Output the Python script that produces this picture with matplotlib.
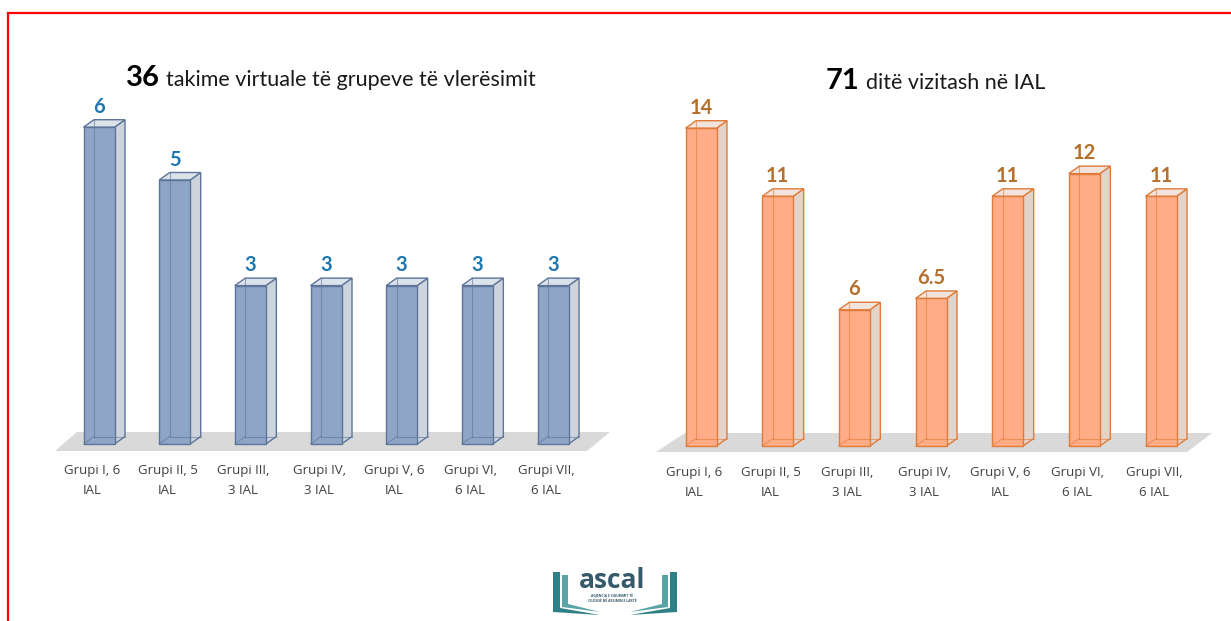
import matplotlib
matplotlib.use("Agg")
import matplotlib.pyplot as plt
from matplotlib.patches import Polygon, Rectangle
from matplotlib.lines import Line2D

# ---------------- data ----------------
categories = ["Grupi I, 6\nIAL", "Grupi II, 5\nIAL", "Grupi III,\n3 IAL", "Grupi IV,\n3 IAL",
              "Grupi V, 6\nIAL", "Grupi VI,\n6 IAL", "Grupi VII,\n6 IAL"]
meetings = [6, 5, 3, 3, 3, 3, 3]
visit_days = [14, 11, 6, 6.5, 11, 12, 11]
meetings_labels = ["6", "5", "3", "3", "3", "3", "3"]
visit_labels = ["14", "11", "6", "6.5", "11", "12", "11"]
title_left_num, title_left_text = "36", "takime virtuale të grupeve të vlerësimit"
title_right_num, title_right_text = "71", "ditë vizitash në IAL"

W, H = 1231, 621
fig = plt.figure(figsize=(W / 100, H / 100), dpi=100)
fig.patch.set_facecolor("white")

FONT = "Lato"


def make_axes(box, x_first, x_step, y_base, y_scale):
    """box = (left, right, top, bottom) in pixels from top-left."""
    l, r, t, b = box
    ax = fig.add_axes([l / W, 1 - b / H, (r - l) / W, (b - t) / H])
    ax.set_xlim((l - x_first) / x_step, (r - x_first) / x_step)
    ax.set_ylim((y_base - b) / y_scale, (y_base - t) / y_scale)
    ax.axis("off")
    return ax


def draw_chart(ax, values, labels, x_first, x_step, y_base, y_scale, floor_px,
               face, side, top, edge, val_color):
    px2x = lambda p: (p - x_first) / x_step
    px2y = lambda p: (y_base - p) / y_scale
    # floor
    (bl, br, yb), (tl, tr, yt) = floor_px
    ax.add_patch(Polygon([(px2x(bl), px2y(yb)), (px2x(br), px2y(yb)),
                          (px2x(tr), px2y(yt)), (px2x(tl), px2y(yt))],
                         closed=True, facecolor="#d9d9d9", edgecolor="none", zorder=1))
    w = 31 / x_step
    dx = 10.5 / x_step
    dy = 7.5 / y_scale
    for i, v in enumerate(values):
        x0, x1 = i - w / 2, i + w / 2
        ax.add_patch(Polygon([(x1, 0), (x1 + dx, dy), (x1 + dx, v + dy), (x1, v)],
                             closed=True, facecolor=side, edgecolor=edge, lw=1.0, zorder=3))
        ax.add_patch(Polygon([(x0, v), (x1, v), (x1 + dx, v + dy), (x0 + dx, v + dy)],
                             closed=True, facecolor=top, edgecolor=edge, lw=1.0, zorder=3))
        ax.add_patch(Rectangle((x0, 0), w, v, facecolor=face, edgecolor=edge, lw=1.0, zorder=4))
        # hidden back edges seen through the translucent bar
        kw = dict(color=edge, lw=0.8, alpha=0.6, zorder=5)
        ax.add_line(Line2D([x0 + dx, x0 + dx], [dy, v + dy], **kw))
        ax.add_line(Line2D([x0 + dx, x1 + dx], [dy, dy], **kw))
        ax.add_line(Line2D([x0, x0 + dx], [0, dy], **kw))
        ax.annotate(labels[i], xy=(i, v + dy), xytext=(0, 3), textcoords="offset pixels",
                    ha="center", va="bottom", fontsize=14.5, fontweight="bold",
                    color=val_color, family=FONT, zorder=6)
        ax.annotate(categories[i], xy=(i, 0), xycoords="data", xytext=(-7, -20),
                    textcoords="offset pixels", ha="center", va="top", fontsize=9.5,
                    color="#404040", family="Open Sans", linespacing=1.65,
                    annotation_clip=False, zorder=6)


# left chart
L = dict(x_first=99, x_step=75.67, y_base=444, y_scale=52.8)
axL = make_axes((30, 625, 90, 520), **L)
draw_chart(axL, meetings, meetings_labels, **L,
           floor_px=((55, 587, 451), (77, 610, 432)),
           face="#8fa5c8", side="#cdd4dd", top="#dce2ea", edge="#5d7599",
           val_color="#1f77b0")

# right chart
R = dict(x_first=701, x_step=76.67, y_base=446, y_scale=22.7)
axR = make_axes((635, 1228, 90, 520), **R)
draw_chart(axR, visit_days, visit_labels, **R,
           floor_px=((656, 1187, 452), (685, 1212, 433)),
           face="#ffac87", side="#e4d3c9", top="#f0e4dc", edge="#e07b3a",
           val_color="#b5702d")

# titles
fig.text(160 / W, 1 - 86 / H, title_left_num, ha="right", va="baseline",
         fontsize=21, fontweight="bold", family=FONT, color="black")
fig.text(166 / W, 1 - 86 / H, title_left_text, ha="left", va="baseline",
         fontsize=15.5, family=FONT, color="#1a1a1a")
fig.text(859 / W, 1 - 89 / H, title_right_num, ha="right", va="baseline",
         fontsize=21, fontweight="bold", family=FONT, color="black")
fig.text(866 / W, 1 - 89 / H, title_right_text, ha="left", va="baseline",
         fontsize=15.5, family=FONT, color="#1a1a1a")

# red frame
fig.add_artist(Line2D([8 / W, 1], [1 - 13 / H, 1 - 13 / H], color="red", lw=1.6,
                      transform=fig.transFigure))
fig.add_artist(Line2D([8 / W, 8 / W], [1 - 13 / H, 0], color="red", lw=1.6,
                      transform=fig.transFigure))

# logo
def fp(x, y):
    return (x / W, 1 - y / H)

teal = "#2f7f86"
teal2 = "#5aa3a6"
for pts, c in [([(553, 572), (560, 572), (560, 608), (600, 615), (553, 612)], teal),
               ([(562, 575), (568, 575), (568, 604), (600, 612), (562, 607)], teal2),
               ([(677, 572), (670, 572), (670, 608), (630, 615), (677, 612)], teal),
               ([(668, 575), (662, 575), (662, 604), (630, 612), (668, 607)], teal2)]:
    fig.add_artist(Polygon([fp(*p) for p in pts], closed=True, facecolor=c,
                           edgecolor="none", transform=fig.transFigure))
fig.text(612 / W, 1 - 588 / H, "ascal", ha="center", va="baseline", fontsize=19,
         fontweight="bold", family="Open Sans", color="#36596b")
fig.text(612 / W, 1 - 597 / H, "AGJENCIA E SIGURIMIT TË", ha="center", va="baseline",
         fontsize=2.4, fontweight="bold", family="Open Sans", color="#36596b")
fig.text(612 / W, 1 - 602 / H, "CILËSISË NË ARSIMIN E LARTË", ha="center", va="baseline",
         fontsize=2.4, fontweight="bold", family="Open Sans", color="#36596b")

fig.savefig("out.png", dpi=100)
